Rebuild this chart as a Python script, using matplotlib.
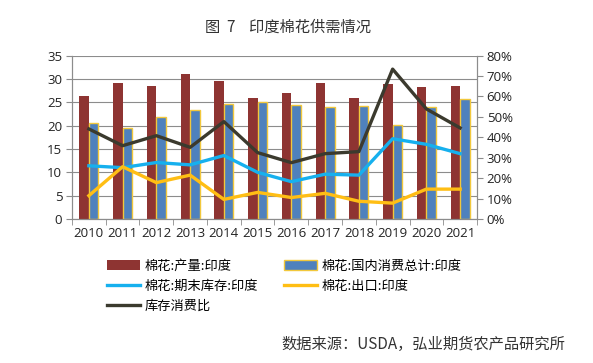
import matplotlib
matplotlib.use("Agg")
import matplotlib.pyplot as plt
import numpy as np
from matplotlib.ticker import FuncFormatter, MultipleLocator

plt.rcParams['font.family'] = ['Noto Sans CJK SC', 'DejaVu Sans']

years = ['2010', '2011', '2012', '2013', '2014', '2015',
         '2016', '2017', '2018', '2019', '2020', '2021']
production = [26.4, 29.1, 28.5, 31.1, 29.6, 25.9, 27.0, 29.2, 26.0, 29.0, 28.3, 28.5]
consumption = [20.5, 19.4, 21.8, 23.3, 24.6, 25.0, 24.4, 24.1, 24.3, 20.1, 24.1, 25.7]
ending_stock = [11.4, 11.0, 12.1, 11.6, 13.6, 10.0, 8.0, 9.6, 9.4, 17.2, 16.0, 14.0]
exports = [5.0, 11.2, 7.8, 9.4, 4.2, 5.7, 4.6, 5.5, 3.8, 3.4, 6.4, 6.4]
stock_ratio = [44.1, 35.9, 40.8, 35.1, 47.7, 32.5, 27.6, 32.0, 33.0, 73.4, 53.9, 44.6]

labels = ['棉花:产量:印度', '棉花:国内消费总计:印度', '棉花:期末库存:印度',
          '棉花:出口:印度', '库存消费比']

fig = plt.figure(figsize=(5.93, 3.63), dpi=100)
ax1 = fig.add_axes([0.1214, 0.3967, 0.683, 0.45])
ax2 = ax1.twinx()

x = np.arange(len(years))
w = 0.28
b1 = ax1.bar(x - w / 2, production, w, color='#8E3432', zorder=2)
b2 = ax1.bar(x + w / 2, consumption, w, color='#4F81BD', edgecolor='#F2C83C',
             linewidth=1.0, zorder=2)
l1, = ax1.plot(x, ending_stock, color='#16B0EE', lw=2.4, zorder=3)
l2, = ax1.plot(x, exports, color='#FFBE14', lw=2.4, zorder=3)
l3, = ax2.plot(x, stock_ratio, color='#3B3A2E', lw=2.4, zorder=3)

gray = '#8C8C8C'
ax1.set_xlim(-0.5, len(years) - 0.5)
ax1.set_ylim(0, 35)
ax1.yaxis.set_major_locator(MultipleLocator(5))
ax1.grid(axis='y', color=gray, lw=0.8, zorder=0)
ax1.set_axisbelow(True)
ax2.set_ylim(0, 80)
ax2.yaxis.set_major_locator(MultipleLocator(10))
ax2.yaxis.set_major_formatter(FuncFormatter(lambda v, p: f'{int(v)}%'))

ax1.set_xticks(x)
ax1.set_xticklabels(years)
ax1.set_xticks(np.arange(-0.5, len(years)), minor=True)
ax1.tick_params(axis='x', which='major', length=0, pad=6)
ax1.tick_params(axis='x', which='minor', length=4, color=gray, direction='out')
for a in (ax1, ax2):
    for s in a.spines.values():
        s.set_color(gray)
    a.spines['top'].set_visible(False)
    a.tick_params(axis='y', length=4, color=gray, labelsize=9.5, pad=3)
ax1.tick_params(axis='x', labelsize=9.5)
for t in ax1.get_xticklabels() + ax1.get_yticklabels() + ax2.get_yticklabels():
    t.set_fontfamily(['Open Sans', 'DejaVu Sans'])
    t.set_color('#222222')

fig.text(0.485, 0.925, '图  7    印度棉花供需情况', ha='center', va='center',
         fontsize=11, color='#333333')

handles = [b1, l1, l3, b2, l2]
leg_labels = [labels[0], labels[2], labels[4], labels[1], labels[3]]
fig.legend(handles, leg_labels, ncol=2, loc='upper left',
           bbox_to_anchor=(0.18, 0.285), frameon=False, fontsize=9.5,
           handlelength=2.5, handletextpad=0.4, columnspacing=1.9,
           labelspacing=0.55, borderpad=0, borderaxespad=0)

fig.text(0.953, 0.05, '数据来源：USDA，弘业期货农产品研究所', ha='right',
         va='center', fontsize=11, color='#333333')

fig.savefig('out.png', dpi=100)
